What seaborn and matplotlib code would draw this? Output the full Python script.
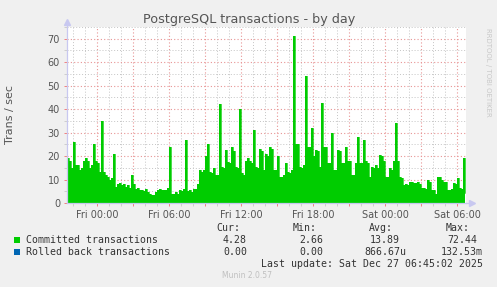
import numpy as np
import pandas as pd
import matplotlib
matplotlib.use("Agg")
import matplotlib.pyplot as plt
import matplotlib.dates as mdates
from matplotlib.ticker import MultipleLocator, FuncFormatter
import seaborn as sns

# ---------------- data (10-minute samples) ----------------
start_time = "2025-12-25 21:30"
end_time = "2025-12-27 06:45"
committed = [
    19, 18, 15, 26, 16, 16, 14, 15, 18, 19,
    18, 15, 16, 25, 18, 17, 13, 35, 13, 12,
    11, 10, 10.5, 21, 7, 8, 8.5, 7.5, 8, 7,
    7.5, 6.5, 12, 8, 6, 6.5, 5.5, 5.5, 5, 6,
    4.5, 4, 3.5, 3.5, 4.5, 5.5, 6, 5.5, 5.5, 5.5,
    6.5, 24, 4, 4, 4.5, 4, 5.5, 5, 6, 27,
    5, 5.5, 4.5, 6, 6, 8, 14, 13, 14, 20,
    25, 13, 12.7, 15, 12, 12, 42, 15.5, 15, 22.6,
    17.6, 17, 24, 22, 15.5, 15, 40, 12.7, 12, 18,
    19, 18, 17, 31, 15.5, 15, 23, 22, 14, 21,
    20, 24, 23, 14, 14, 20, 11, 11, 12, 17,
    13, 12.7, 14, 71, 25, 25, 15.5, 15, 16, 54,
    24, 24, 32, 20, 22.6, 22, 15.5, 42.5, 24, 24,
    17, 17, 30, 14, 14, 22.6, 22, 17, 17, 24,
    18, 18, 12, 12, 17, 28, 17, 17, 27, 18,
    17, 11, 15.5, 15, 16, 15, 20.5, 20, 18, 11,
    11, 14.8, 14, 18, 34, 18, 11, 10.5, 7.7, 8,
    7.5, 9, 9, 8.5, 8.4, 9, 8, 6.3, 6.5, 6,
    9.8, 9, 5.5, 5.5, 4, 11, 11, 10, 9, 9,
    5.5, 5.5, 6, 8.4, 8, 10.5, 6.3, 6, 19, 4.28,
]
rolled_back = [0.0] * len(committed)

series_names = ["Committed transactions", "Rolled back transactions"]
series_colors = ["#00CC00", "#0066B3"]
stat_headers = ["Cur:", "Min:", "Avg:", "Max:"]
stats_committed = ["4.28", "2.66", "13.89", "72.44"]
stats_rolled = ["0.00", "0.00", "866.67u", "132.53m"]
title = "PostgreSQL transactions - by day"
ylabel = "Trans / sec"
last_update = "Last update: Sat Dec 27 06:45:02 2025"
footer = "Munin 2.0.57"
side_text = "RRDTOOL / TOBI OETIKER"

df = pd.DataFrame({
    "time": pd.date_range(start_time, periods=len(committed), freq="10min"),
    "committed": committed,
    "rolled_back": rolled_back,
})

# ---------------- figure ----------------
sns.set_theme(style="white")
plt.rcParams["font.family"] = ["DejaVu Sans"]
W, H = 497, 287
fig = plt.figure(figsize=(W / 100, H / 100), dpi=100, facecolor="#F0F0F0")

def fx(x):
    return x / W

def fy(y):
    return 1 - y / H

ax = fig.add_axes([fx(67), fy(203), (466 - 67) / W, (203 - 27) / H])
ax.set_facecolor("white")

# areas
ax.fill_between(df["time"], 0, df["committed"], step="post",
                color=series_colors[0], linewidth=0, zorder=3)
sns.lineplot(data=df, x="time", y="committed", drawstyle="steps-post",
             color=series_colors[0], linewidth=0.5, ax=ax, zorder=3)
stack_top = df["committed"] + df["rolled_back"]
ax.fill_between(df["time"], df["committed"], stack_top, step="post",
                color=series_colors[1], linewidth=0, zorder=3)

ax.set_xlim(pd.Timestamp(start_time), pd.Timestamp(end_time))
ax.set_ylim(0, 75)

# x axis: major every 3 h (red grid), labels every 6 h, minor every hour
ax.xaxis.set_major_locator(mdates.HourLocator(byhour=range(0, 24, 3)))
ax.xaxis.set_minor_locator(mdates.HourLocator())
def xfmt(v, pos):
    d = mdates.num2date(v)
    return d.strftime("%a %H:%M") if d.hour % 6 == 0 else ""
ax.xaxis.set_major_formatter(FuncFormatter(xfmt))

ax.yaxis.set_major_locator(MultipleLocator(10))
ax.yaxis.set_minor_locator(MultipleLocator(5))
ax.yaxis.set_major_formatter(FuncFormatter(lambda v, p: f"{v:.0f}" if v < 75 else ""))

ax.grid(which="minor", color="#C4C4C4", linestyle=(0, (1, 2)), linewidth=0.7, zorder=1)
ax.grid(which="major", color="#E89494", linestyle=(0, (1, 2)), linewidth=0.8, zorder=1)
ax.set_axisbelow(True)

ax.tick_params(axis="both", which="major", length=2, width=0.7, color="#F08080",
               labelsize=7, labelcolor="#555555", pad=3)
ax.tick_params(axis="both", which="minor", length=2, width=0.6, color="#C8C8C8")
ax.tick_params(axis="x", which="both", bottom=True, direction="out")
ax.tick_params(axis="y", which="both", left=True, direction="out")
ax.set_xlabel("")
ax.set_ylabel("")

for s in ["top", "right"]:
    ax.spines[s].set_visible(False)
for s in ["left", "bottom"]:
    ax.spines[s].set_color("#C8C8F0")
    ax.spines[s].set_linewidth(0.9)
    ax.spines[s].set_zorder(4)

# axis arrows
ax.plot([0], [1.03], marker="^", color="#C8C8F0", markersize=4,
        transform=ax.transAxes, clip_on=False, zorder=5)
ax.plot([1.015], [0], marker=">", color="#C8C8F0", markersize=4,
        transform=ax.transAxes, clip_on=False, zorder=5)
ax.plot([0, 0], [1.0, 1.03], color="#C8C8F0", linewidth=0.9,
        transform=ax.transAxes, clip_on=False, zorder=5)
ax.plot([1.0, 1.015], [0, 0], color="#C8C8F0", linewidth=0.9,
        transform=ax.transAxes, clip_on=False, zorder=5)

# texts
fig.text(fx(249), fy(19), title, ha="center", va="center", fontsize=9.2, color="#555555")
fig.text(fx(10), fy(115), ylabel, ha="center", va="center", rotation=90,
         fontsize=8, color="#555555")
fig.text(fx(488), fy(28), side_text, ha="center", va="top", rotation=270,
         fontsize=5, color="#C8C8C8")

mono = "DejaVu Sans Mono"
fs = 7.1
hdr_right = [240, 317, 393, 470]
val_right = [247, 323, 400, 477]
val_right2 = [247, 323, 406, 483]
for h, xr in zip(stat_headers, hdr_right):
    fig.text(fx(xr), fy(228), h, ha="right", va="center", family=mono, fontsize=fs, color="#333333")
rows_y = [240, 252]
for name, col, y in zip(series_names, series_colors, rows_y):
    fig.patches.append(matplotlib.patches.Rectangle(
        (fx(14), fy(y + 3)), 6 / W, 6 / H, transform=fig.transFigure,
        facecolor=col, edgecolor="none"))
    fig.text(fx(26), fy(y), name, ha="left", va="center", family=mono, fontsize=fs, color="#333333")
for v, xr in zip(stats_committed, val_right):
    fig.text(fx(xr), fy(rows_y[0]), v, ha="right", va="center", family=mono, fontsize=fs, color="#333333")
for v, xr in zip(stats_rolled, val_right2):
    fig.text(fx(xr), fy(rows_y[1]), v, ha="right", va="center", family=mono, fontsize=fs, color="#333333")
fig.text(fx(483), fy(264), last_update, ha="right", va="center", family=mono, fontsize=fs, color="#333333")
fig.text(fx(247), fy(276), footer, ha="center", va="center", fontsize=5.5, color="#C0C0C0")

fig.savefig("out.png", dpi=100, facecolor=fig.get_facecolor())
